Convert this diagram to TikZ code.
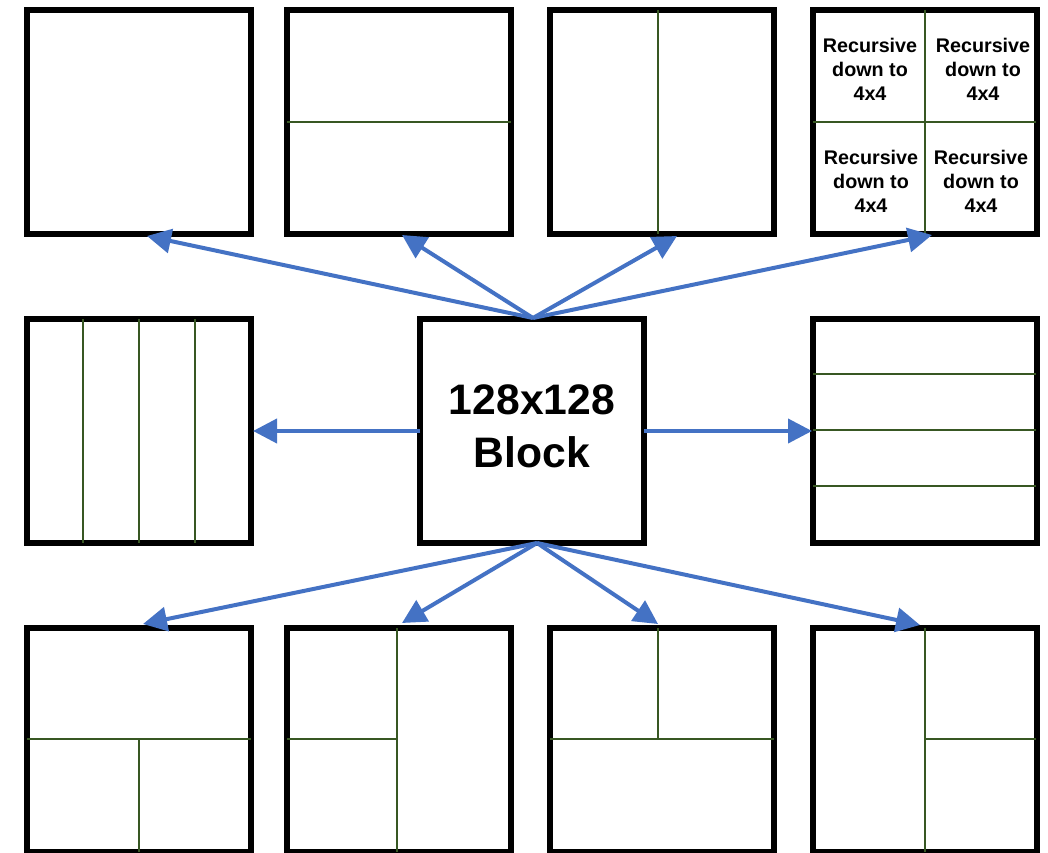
\documentclass[tikz,border=0pt]{standalone}
\usepackage{fontspec}
\setmainfont{Liberation Sans}
\usetikzlibrary{arrows.meta,calc}
\definecolor{arrowblue}{HTML}{4472C4}
\definecolor{splitgreen}{HTML}{385723}
\tikzset{
  blockbox/.style={draw=black, line width=4.5pt, minimum width=168pt, minimum height=168pt, inner sep=0pt, outer sep=0pt, fill=white},
  splitline/.style={draw=splitgreen, line width=2pt},
  conn/.style={draw=arrowblue, line width=3pt, -{Triangle[length=18pt,width=18pt]}},
  rectext/.style={font=\bfseries\fontsize{14.8pt}{18pt}\selectfont, align=center, inner sep=0pt},
  bigtext/.style={font=\bfseries\fontsize{32pt}{40pt}\selectfont, align=center, inner sep=0pt}
}
\begin{document}
\begin{tikzpicture}[x=0.75pt, y=-0.75pt]
\useasboundingbox (0,0) rectangle (1048,852);
% boxes
\node[blockbox] (t1) at (139,122) {};
\node[blockbox] (t2) at (399,122) {};
\node[blockbox] (t3) at (662,122) {};
\node[blockbox] (t4) at (924.5,122) {};
\node[blockbox] (m1) at (139,431) {};
\node[blockbox] (c) at (532,431) {};
\node[blockbox] (m3) at (924.5,431) {};
\node[blockbox] (b1) at (139,740) {};
\node[blockbox] (b2) at (399,740) {};
\node[blockbox] (b3) at (662,740) {};
\node[blockbox] (b4) at (924.5,740) {};
% split lines
\draw[splitline] (287,122) -- (511,122);
\draw[splitline] (658,10) -- (658,234);
\draw[splitline] (925,10) -- (925,234);
\draw[splitline] (813,122) -- (1036,122);
\draw[splitline] (83,319) -- (83,543);
\draw[splitline] (139,319) -- (139,543);
\draw[splitline] (195,319) -- (195,543);
\draw[splitline] (813,374) -- (1036,374);
\draw[splitline] (813,430) -- (1036,430);
\draw[splitline] (813,486) -- (1036,486);
\draw[splitline] (27,739) -- (251,739);
\draw[splitline] (139,739) -- (139,852);
\draw[splitline] (397,628) -- (397,852);
\draw[splitline] (287,739) -- (397,739);
\draw[splitline] (658,628) -- (658,739);
\draw[splitline] (550,739) -- (774,739);
\draw[splitline] (925,628) -- (925,852);
\draw[splitline] (925,739) -- (1036,739);
% texts
\node[rectext] (r1) at (870,69) {Recursive\\down to\\4x4};
\node[rectext] (r2) at (983,69) {Recursive\\down to\\4x4};
\node[rectext] (r3) at (871,181) {Recursive\\down to\\4x4};
\node[rectext] (r4) at (981,181) {Recursive\\down to\\4x4};
\node[bigtext] (ct) at (532,426) {128x128\\Block};
% arrow end points
\coordinate (e1) at (147,236);
\coordinate (e2) at (402,235);
\coordinate (e3) at (677,236);
\coordinate (e4) at (932,235);
\coordinate (e5) at (253,431);
\coordinate (e6) at (812,431);
\coordinate (e7) at (143,624);
\coordinate (e8) at (402,623);
\coordinate (e9) at (658,624);
\coordinate (e10) at (920,625);
\coordinate (ot) at (533,318);
\coordinate (ob) at (537,543);
% connectors
\draw[conn] (ot) -- (e1);
\draw[conn] (ot) -- (e2);
\draw[conn] (ot) -- (e3);
\draw[conn] (ot) -- (e4);
\draw[conn] (c.west) -- (e5);
\draw[conn] (c.east) -- (e6);
\draw[conn] (ob) -- (e7);
\draw[conn] (ob) -- (e8);
\draw[conn] (ob) -- (e9);
\draw[conn] (ob) -- (e10);
\end{tikzpicture}
\end{document}
